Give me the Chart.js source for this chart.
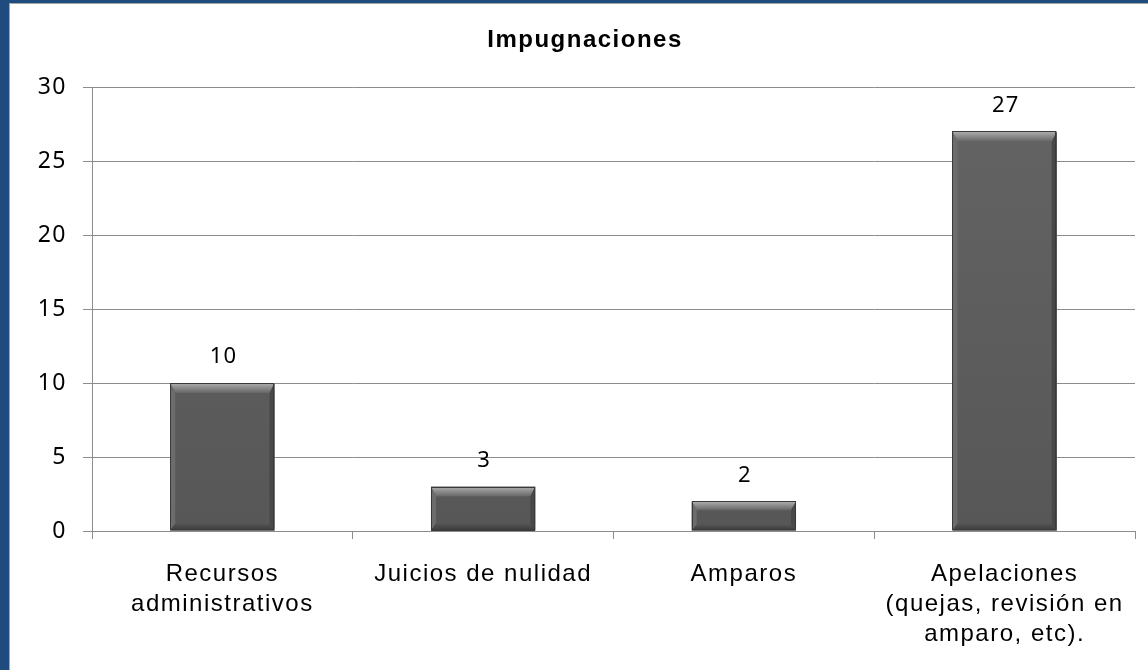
<!DOCTYPE html>
<html>
<head>
<meta charset="utf-8">
<script src="https://cdn.jsdelivr.net/npm/chart.js@4"></script>
<style>
    html, body { margin: 0; padding: 0; width: 1148px; height: 670px; overflow: hidden; background: #1f4b7f; }
    #frame { position: absolute; left: 9px; top: 3px; width: 1139px; height: 667px; background: #fff;
             border-left: 1px solid #a6a6a6; border-top: 1px solid #a6a6a6; }
    #chart { position: absolute; left: 10px; top: 4px; }
</style>
</head>
<body>
<div id="frame"></div>
<canvas id="chart" width="1138" height="666"></canvas>
<script>
const chartTitle = 'Impugnaciones';
const categories = [
    ['Recursos', 'administrativos'],
    'Juicios de nulidad',
    'Amparos',
    ['Apelaciones', '(quejas, revisión en', 'amparo, etc).']
];
const values = [10, 3, 2, 27];
const yMin = 0;
const yMax = 30;
const yStep = 5;

const gridColor = '#8c8c8c';

// wider text like the original rendering
const spacing = {
    id: 'spacing',
    beforeDraw(chart) {
        chart.ctx.letterSpacing = '1.5px';
    }
};

const titleText = {
    id: 'titleText',
    afterDraw(chart) {
        const ctx = chart.ctx;
        ctx.save();
        ctx.letterSpacing = '1.5px';
        ctx.font = 'bold 24px "Liberation Sans", Arial, sans-serif';
        ctx.fillStyle = '#000';
        ctx.textAlign = 'center';
        ctx.textBaseline = 'middle';
        ctx.fillText(chartTitle, chart.width / 2 + 6, 36);
        ctx.restore();
    }
};

// bevel edges + value labels on top of each bar
const bevel = {
    id: 'bevel',
    afterDatasetsDraw(chart) {
        const ctx = chart.ctx;
        const meta = chart.getDatasetMeta(0);
        ctx.save();
        meta.data.forEach((bar, i) => {
            const l = bar.x - bar.width / 2, r = bar.x + bar.width / 2;
            const t = bar.y, b = bar.base;
            const h = b - t;
            const s = 5;
            const tb = Math.min(10, h * 0.3);
            const bb = Math.min(7, h * 0.2);

            const poly = (pts, fill) => {
                ctx.beginPath();
                ctx.moveTo(pts[0][0], pts[0][1]);
                for (let k = 1; k < pts.length; k++) ctx.lineTo(pts[k][0], pts[k][1]);
                ctx.closePath();
                ctx.fillStyle = fill;
                ctx.fill();
            };

            let g = ctx.createLinearGradient(0, t, 0, t + tb);
            g.addColorStop(0, '#b0b0b0');
            g.addColorStop(0.5, '#8a8a8a');
            g.addColorStop(1, '#666666');
            poly([[l, t], [r, t], [r - s, t + tb], [l + s, t + tb]], g);
            poly([[l, t], [l + s, t + tb], [l + s, b - bb], [l, b]], '#6c6c6c');
            poly([[r, t], [r - s, t + tb], [r - s, b - bb], [r, b]], '#484848');
            g = ctx.createLinearGradient(0, b - bb, 0, b);
            g.addColorStop(0, '#555555');
            g.addColorStop(1, '#3a3a3a');
            poly([[l, b], [l + s, b - bb], [r - s, b - bb], [r, b]], g);

            ctx.strokeStyle = '#3a3a3a';
            ctx.lineWidth = 1;
            ctx.strokeRect(Math.round(l) + 0.5, Math.round(t) + 0.5, Math.round(r - l) - 1, Math.round(h) - 1);

            ctx.letterSpacing = '1px';
            ctx.font = '22px "Noto Sans", sans-serif';
            ctx.fillStyle = '#000';
            ctx.textAlign = 'center';
            ctx.textBaseline = 'middle';
            ctx.fillText(values[i], bar.x + 1, t - 26);
        });
        ctx.restore();
    }
};

new Chart(document.getElementById('chart'), {
    type: 'bar',
    data: {
        labels: categories,
        datasets: [{
            data: values,
            backgroundColor: (c) => {
                const area = c.chart.chartArea;
                if (!area) return '#5e5e5e';
                const g = c.chart.ctx.createLinearGradient(0, area.top, 0, area.bottom);
                g.addColorStop(0, '#646464');
                g.addColorStop(1, '#575757');
                return g;
            },
            borderWidth: 0,
            categoryPercentage: 1.0,
            barPercentage: 0.4
        }]
    },
    options: {
        responsive: false,
        animation: false,
        layout: { padding: { top: 83, right: 13, left: 0, bottom: 0 } },
        plugins: {
            legend: { display: false },
            title: { display: false },
            tooltip: { enabled: false }
        },
        scales: {
            x: {
                offset: true,
                grid: { offset: true, drawOnChartArea: false, drawTicks: true, tickLength: 8, color: gridColor },
                border: { color: gridColor },
                ticks: {
                    color: '#000',
                    font: { family: '"Liberation Sans", Arial, sans-serif', size: 24, lineHeight: 1.25 },
                    padding: 20,
                    maxRotation: 0,
                    autoSkip: false
                },
                afterFit(scale) { scale.height = 139; }
            },
            y: {
                min: yMin,
                max: yMax,
                ticks: {
                    stepSize: yStep,
                    color: '#000',
                    font: { family: '"Noto Sans", sans-serif', size: 23 },
                    padding: 16
                },
                grid: { color: gridColor, tickLength: 9 },
                border: { color: gridColor },
                afterFit(scale) { scale.width = 82; }
            }
        }
    },
    plugins: [spacing, titleText, bevel]
});
</script>
</body>
</html>
